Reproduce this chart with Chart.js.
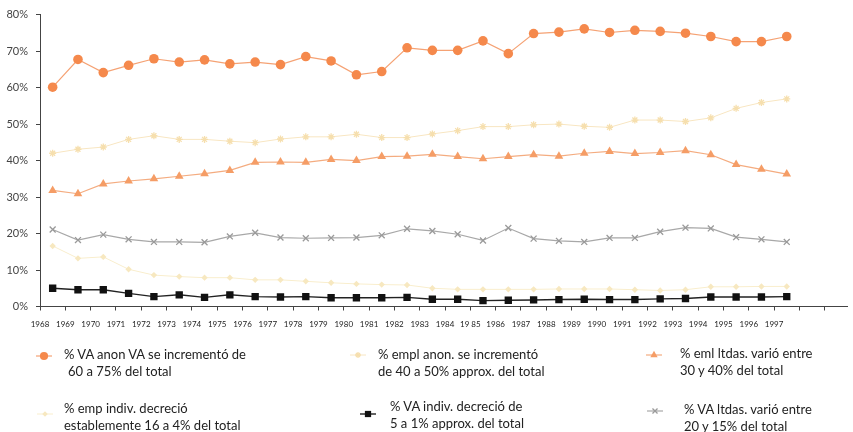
<!DOCTYPE html>
<html>
<head>
<meta charset="utf-8">
<script src="https://cdn.jsdelivr.net/npm/chart.js@4/dist/chart.umd.min.js"></script>
<style>
  html, body { margin: 0; padding: 0; background: #fff; }
  #wrap { position: relative; width: 853px; height: 432px; }
  #chart { position: absolute; left: 0; top: 0; }
  .item { position: absolute; font-family: Lato, "Open Sans", sans-serif; font-size: 13px; line-height: 17px; color: #222; white-space: nowrap; }
  .mk { position: absolute; }
</style>
</head>
<body>
<div id="wrap">
  <canvas id="chart" width="853" height="432"></canvas>
</div>
<script>
// Years on the horizontal axis (as printed, including the "19 85" spacing)
const years = ["1968","1969","1970","1971","1972","1973","1974","1975","1976","1977",
  "1978","1979","1980","1981","1982","1983","1984","19 85","1986","1987",
  "1988","1989","1990","1991","1992","1993","1994","1995","1996","1997"];

// Shares of the total (%)
const vaAnon    = [60.1,67.7,64.1,66.1,67.9,67.0,67.6,66.5,67.0,66.3,68.5,67.3,63.5,64.4,70.9,70.2,70.2,72.8,69.3,74.8,75.2,76.1,75.1,75.7,75.4,74.9,74.0,72.6,72.6,74.0];
const emplAnon  = [42.0,43.1,43.7,45.8,46.8,45.8,45.8,45.3,44.9,45.9,46.5,46.5,47.2,46.3,46.3,47.3,48.2,49.3,49.3,49.8,50.0,49.4,49.1,51.1,51.1,50.7,51.7,54.3,55.9,56.9];
const emlLtdas  = [31.8,30.9,33.6,34.4,35.0,35.7,36.4,37.3,39.5,39.6,39.5,40.3,40.0,41.1,41.2,41.7,41.1,40.5,41.1,41.6,41.2,42.0,42.5,41.9,42.2,42.7,41.6,38.9,37.6,36.3];
const empIndiv  = [16.6,13.2,13.6,10.2,8.6,8.2,7.9,7.9,7.3,7.3,6.9,6.5,6.2,6.0,5.9,5.0,4.7,4.7,4.7,4.7,4.8,4.8,4.8,4.6,4.4,4.6,5.4,5.4,5.5,5.5];
const vaIndiv   = [5.0,4.6,4.6,3.6,2.7,3.2,2.5,3.2,2.7,2.6,2.7,2.4,2.4,2.4,2.5,2.0,2.0,1.6,1.7,1.8,1.9,2.0,1.9,1.9,2.1,2.2,2.6,2.6,2.6,2.7];
const vaLtdas   = [21.1,18.2,19.7,18.4,17.7,17.7,17.6,19.2,20.2,18.9,18.7,18.8,18.9,19.5,21.3,20.7,19.8,18.1,21.5,18.6,18.0,17.7,18.8,18.8,20.5,21.6,21.4,19.0,18.4,17.7];

const yTicks = [0,10,20,30,40,50,60,70,80];

const legendLines = [
  ["% VA anon VA se incrementó de", "60  a 75% del total"],
  ["% empl anon. se incrementó", "de 40 a 50% approx. del total"],
  ["% eml ltdas. varió entre", "30 y 40% del total"],
  ["% emp indiv. decreció", "establemente 16 a 4% del total"],
  ["% VA indiv. decreció de", "5 a 1% approx. del total"],
  ["% VA ltdas. varió entre", "20 y 15% del total"]
];

// each year sits in the middle of its slot between two tick marks
const pts = arr => arr.map((v, i) => ({ x: i + 0.5, y: v }));

const styles = [
  { data: vaAnon,   line: '#f5a274', fill: '#f5894c', pointStyle: 'circle',   radius: 4.8, width: 1.2 },
  { data: emplAnon, line: '#f8e6c2', fill: '#f6dfae', pointStyle: 'star',     radius: 3.5, width: 1 },
  { data: emlLtdas, line: '#f4ac80', fill: '#f59d66', pointStyle: 'triangle', radius: 5,   width: 1.2 },
  { data: empIndiv, line: '#f9eecd', fill: '#f7e8c0', pointStyle: 'rectRot',  radius: 3.2, width: 1 },
  { data: vaIndiv,  line: '#222222', fill: '#111111', pointStyle: 'rect',     radius: 5.2, width: 1.4 },
  { data: vaLtdas,  line: '#a8a8a8', fill: '#9a9a9a', pointStyle: 'crossRot', radius: 4.2, width: 1.2 }
];

const datasets = styles.map((s, k) => ({
  label: legendLines[k].join(' '),
  data: pts(s.data),
  borderColor: s.line,
  borderWidth: s.width,
  backgroundColor: s.fill,
  pointStyle: s.pointStyle,
  pointRadius: s.radius,
  pointBorderColor: s.fill,
  pointBackgroundColor: s.fill,
  pointBorderWidth: s.pointStyle === 'crossRot' || s.pointStyle === 'star' ? 1.3 : 0,
  tension: 0,
  fill: false
}));

const tickFont = { family: 'Lato, "Open Sans", sans-serif' };

new Chart(document.getElementById('chart'), {
  type: 'line',
  data: { datasets },
  options: {
    responsive: false,
    animation: false,
    layout: { padding: { left: 0, right: 3, top: 14, bottom: 0 } },
    plugins: { legend: { display: false }, tooltip: { enabled: false } },
    scales: {
      x: {
        type: 'linear',
        min: 0,
        max: 31.9,
        afterBuildTicks: axis => { axis.ticks = Array.from({ length: 32 }, (_, i) => ({ value: i })); },
        afterFit: axis => { axis.height = 125.5; },
        ticks: {
          autoSkip: false,
          maxRotation: 0,
          padding: 9,
          color: '#222',
          font: { ...tickFont, size: 8 },
          callback: v => years[v] !== undefined ? years[v] : ''
        },
        grid: { drawOnChartArea: false, tickLength: 4, tickColor: '#444', tickWidth: 1 },
        border: { color: '#444', width: 1 }
      },
      y: {
        min: 0,
        max: 80,
        afterBuildTicks: axis => { axis.ticks = yTicks.map(v => ({ value: v })); },
        afterFit: axis => { axis.width = 40; },
        ticks: {
          padding: 8,
          color: '#444',
          font: { ...tickFont, size: 11 },
          callback: v => v + '%'
        },
        grid: { drawOnChartArea: false, tickLength: 4, tickColor: '#444', tickWidth: 1 },
        border: { color: '#444', width: 1 }
      }
    }
  }
});

// Legend: marker with a short line through it, and two text lines
const legendPos = [
  { mx: 44,  my: 356, tx: 64,  ty: 346, indent: 4 },
  { mx: 358, my: 355, tx: 378, ty: 346, indent: 0 },
  { mx: 654, my: 355, tx: 680, ty: 345, indent: 0 },
  { mx: 45,  my: 414, tx: 64,  ty: 400, indent: 0 },
  { mx: 368, my: 414, tx: 390, ty: 398, indent: 0 },
  { mx: 655, my: 411, tx: 684, ty: 401, indent: 0 }
];

const wrap = document.getElementById('wrap');
styles.forEach((s, k) => {
  const p = legendPos[k];
  const c = document.createElement('canvas');
  c.width = 24; c.height = 16;
  c.className = 'mk';
  c.style.left = (p.mx - 12) + 'px';
  c.style.top = (p.my - 8) + 'px';
  wrap.appendChild(c);
  const ctx = c.getContext('2d');
  ctx.strokeStyle = s.line;
  ctx.lineWidth = s.width;
  ctx.beginPath(); ctx.moveTo(4, 8); ctx.lineTo(20, 8); ctx.stroke();
  ctx.fillStyle = s.fill;
  ctx.strokeStyle = s.fill;
  ctx.lineWidth = (s.pointStyle === 'crossRot' || s.pointStyle === 'star') ? 1.3 : 0.01;
  Chart.helpers.drawPoint(ctx, { pointStyle: s.pointStyle, radius: s.radius * 0.85, rotation: 0, borderWidth: ctx.lineWidth }, 12, 8);

  const d = document.createElement('div');
  d.className = 'item';
  d.style.left = p.tx + 'px';
  d.style.top = p.ty + 'px';
  const l1 = document.createElement('div'); l1.textContent = legendLines[k][0];
  const l2 = document.createElement('div'); l2.textContent = legendLines[k][1];
  l2.style.paddingLeft = p.indent + 'px';
  d.appendChild(l1); d.appendChild(l2);
  wrap.appendChild(d);
});
</script>
</body>
</html>
